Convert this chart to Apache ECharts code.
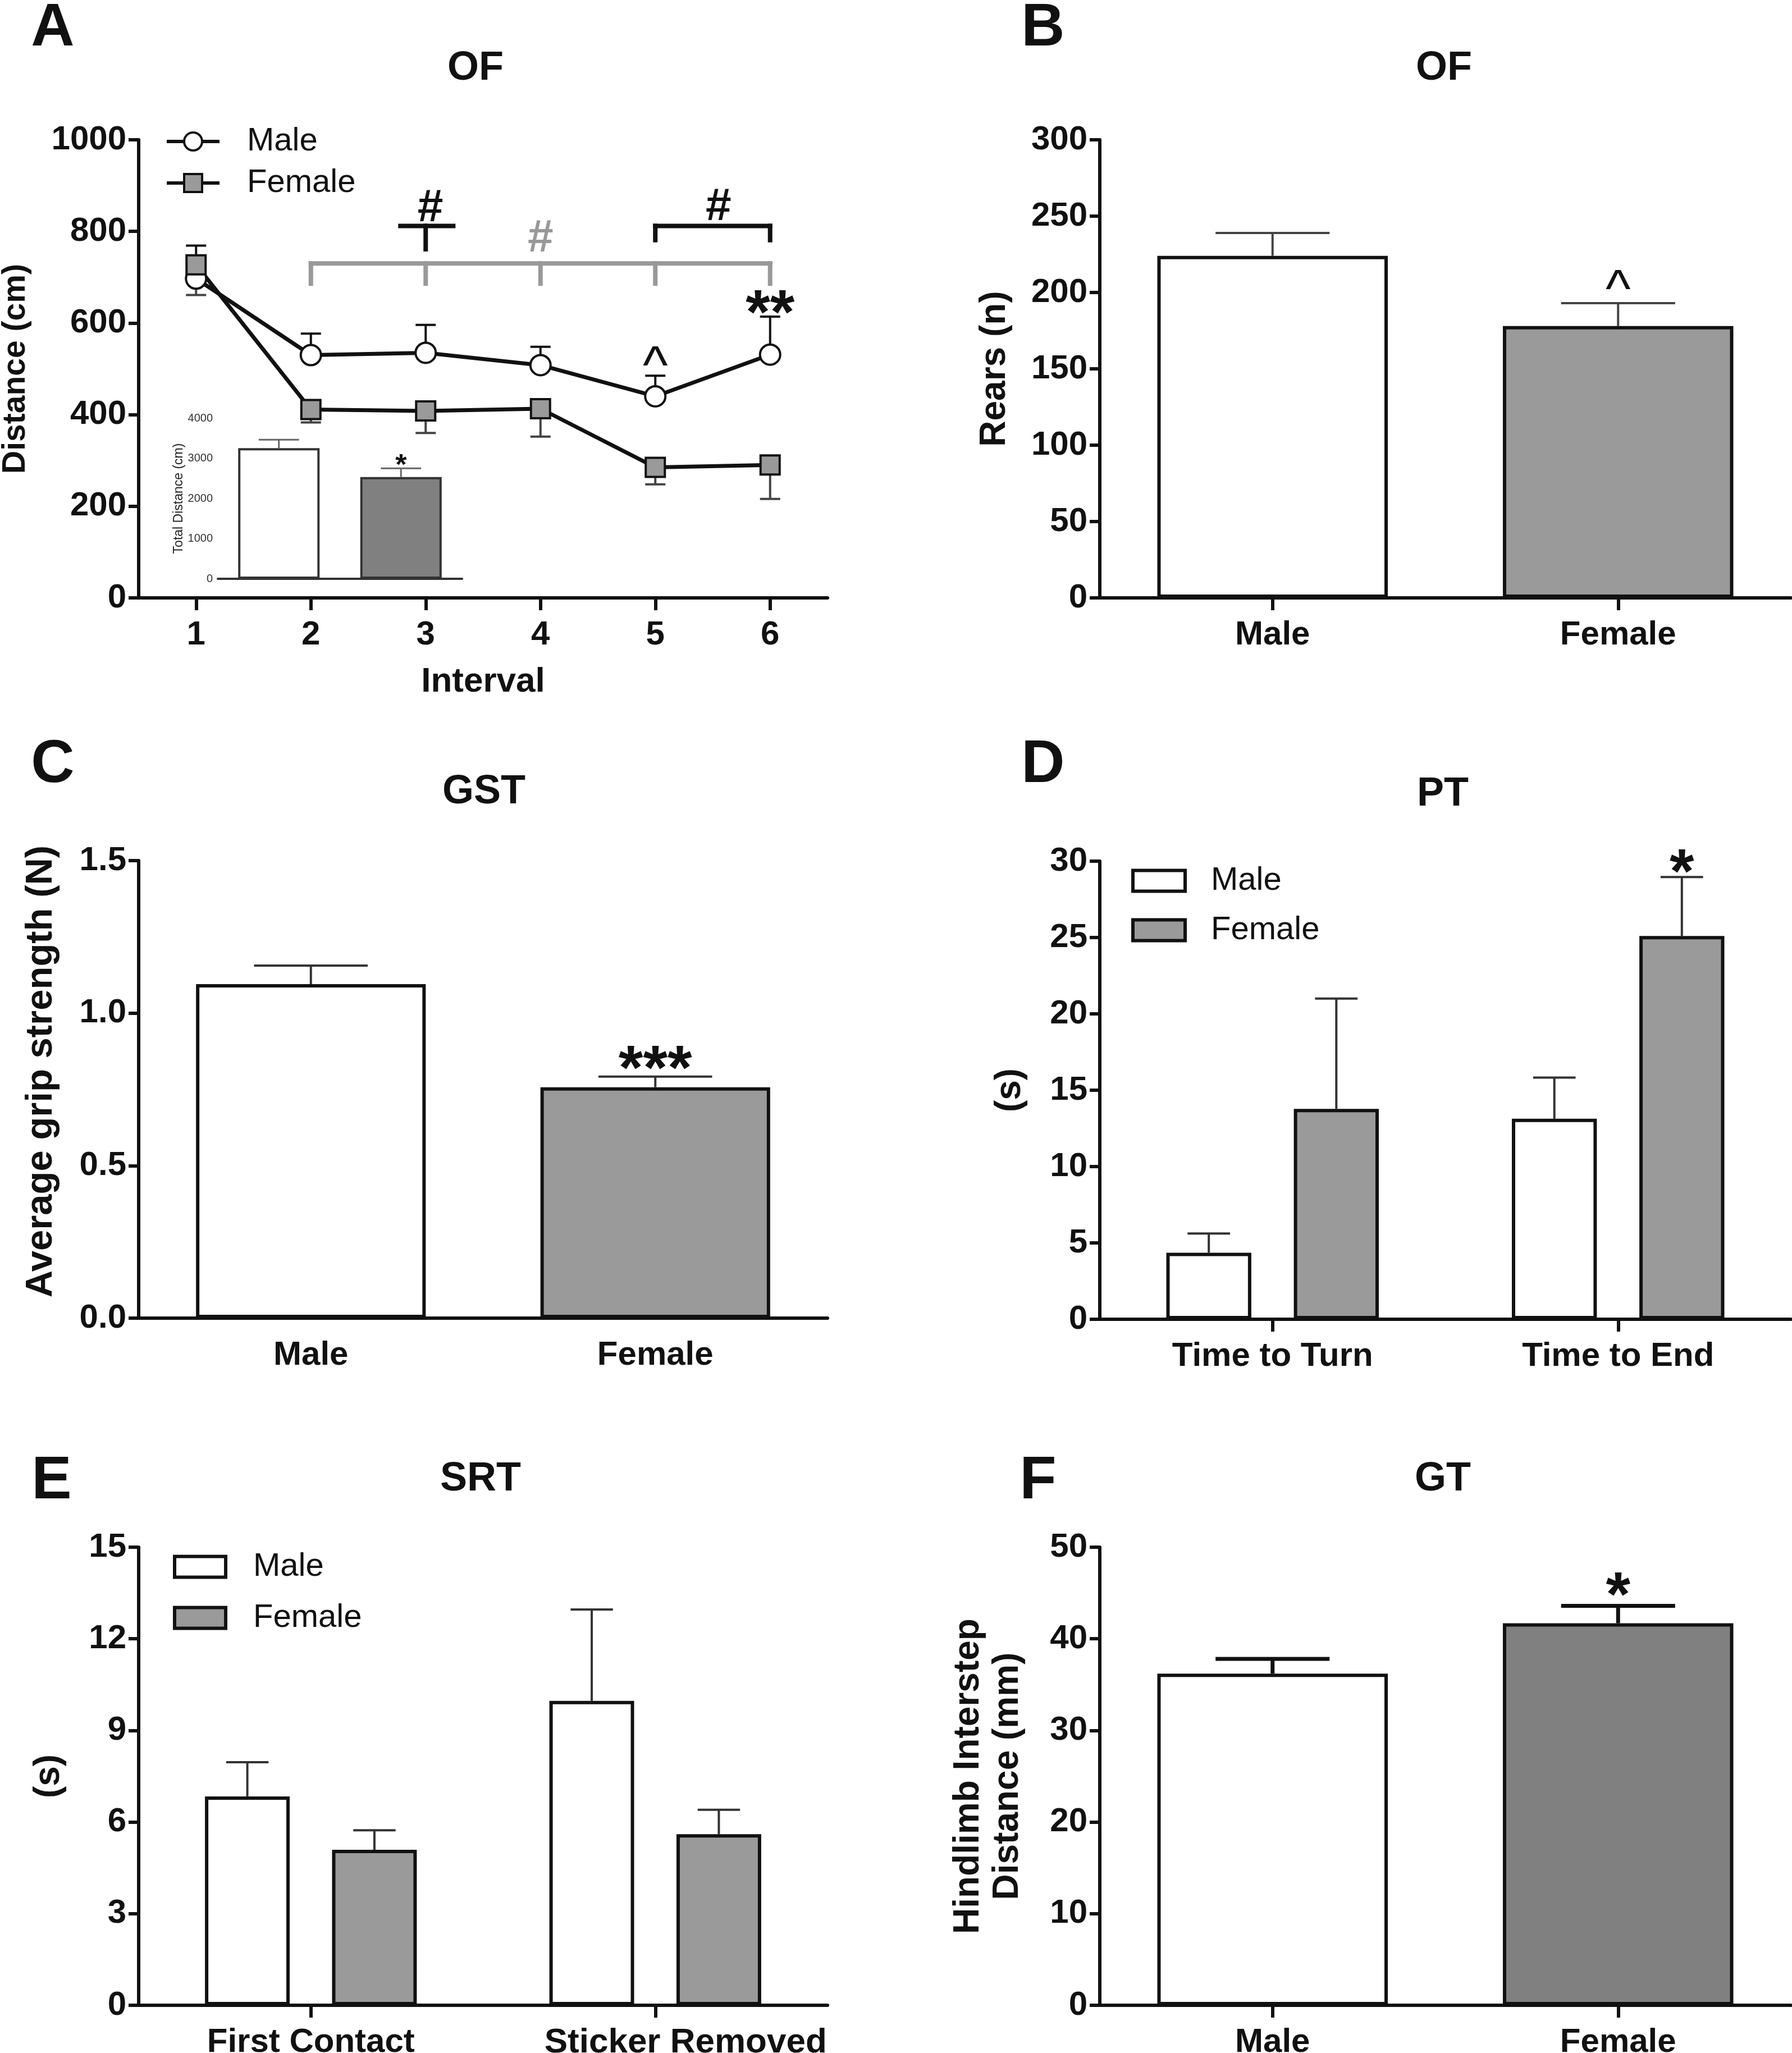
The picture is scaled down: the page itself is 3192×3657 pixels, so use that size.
<!DOCTYPE html>
<html><head><meta charset="utf-8">
<script src="https://cdn.jsdelivr.net/npm/echarts@6/dist/echarts.min.js"></script>
<style>html,body{margin:0;padding:0;background:#fff}#c{width:3192px;height:3657px}</style>
</head><body><div id="c"></div>
<script>
// ---------------- DATA ----------------
const intervals = ['1', '2', '3', '4', '5', '6'];
const maleDistance = [697, 530, 535, 508, 440, 531];
const maleDistanceSem = [72, 47, 61, 40, 45, 83];
const femaleDistance = [727, 411, 408, 413, 285, 290];
const femaleDistanceSem = [66, 28, 48, 61, 37, 74];

const sexes = ['Male', 'Female'];
const totalDistance = [3256, 2535];
const totalDistanceSem = [209, 218];

const rears = [224, 178];
const rearsSem = [15, 15];

const gripStrength = [1.095, 0.757];
const gripStrengthSem = [0.061, 0.035];

const ptCategories = ['Time to Turn', 'Time to End'];
const ptMale = [4.36, 13.13];
const ptMaleSem = [1.26, 2.70];
const ptFemale = [13.78, 25.10];
const ptFemaleSem = [7.22, 3.86];

const srtCategories = ['First Contact', 'Sticker Removed'];
const srtMale = [6.84, 9.97];
const srtMaleSem = [1.12, 2.99];
const srtFemale = [5.09, 5.60];
const srtFemaleSem = [0.64, 0.80];

const interstep = [36.2, 41.7];
const interstepSem = [1.6, 1.9];

// significance marks: [x position (category units), value, text]
const annotationsA = [[3.04, 852, '#'], [5.55, 855, '#'], [5, 523, '^'], [6, 648, '**']];
const annotationsGrayA = [[4, 786, '#']];
const annotationsInset = [[1, 2990, '*']];
const annotationsB = [[1, 207, '^']];
const annotationsC = [[1, 0.858, '***']];
const annotationsD = [[1.1845, 30.07, '*']];
const annotationsF = [[1, 46.1, '*']];
// bracket segments in data units: [x1, y1, x2, y2] (x = interval)
const bracketBlackA = [[2.78, 812, 3.24, 812], [3, 812, 3, 761], [5, 812, 6, 812], [5, 812, 5, 781], [6, 812, 6, 781]];
const bracketGrayA = [[2, 730, 6, 730], [2, 730, 2, 686], [3, 730, 3, 686], [4, 730, 4, 686], [5, 730, 5, 686], [6, 730, 6, 686]];

// ---------------- STYLE ----------------
const FONT = "'Liberation Sans', Arial, Helvetica, sans-serif";
const BLACK = '#111';
const GRAY = '#9a9a9a';
const DARKGRAY = '#808080';
const WHITE = '#ffffff';

const grids = [
  { left: 247, top: 249, width: 1227, height: 816 },   // 0 A
  { left: 388, top: 745, width: 435, height: 286 },    // 1 A inset
  { left: 1959, top: 249, width: 1231, height: 816 },  // 2 B
  { left: 247, top: 1533, width: 1227, height: 815 },  // 3 C
  { left: 1959, top: 1534, width: 1231, height: 816 }, // 4 D
  { left: 247, top: 2756, width: 1227, height: 816 },  // 5 E
  { left: 1959, top: 2756, width: 1231, height: 816 }  // 6 F
].map(g => Object.assign({ containLabel: false, outerBoundsMode: 'none' }, g));

function catAxis(gi, data, extra) {
  return Object.assign({
    type: 'category', gridIndex: gi, data: data, boundaryGap: true,
    axisLine: { show: true, lineStyle: { color: BLACK, width: 6 } },
    axisTick: { show: true, alignWithLabel: true, length: 22, lineStyle: { color: BLACK, width: 6 } },
    axisLabel: { interval: 0, hideOverlap: false, fontFamily: FONT, fontWeight: 'bold', fontSize: 60, color: BLACK, margin: 36 },
    splitLine: { show: false }
  }, extra || {});
}
function valAxis(gi, max, interval, name, nameGap, extra) {
  return Object.assign({
    type: 'value', gridIndex: gi, min: 0, max: max, interval: interval,
    name: name, nameLocation: 'middle', nameGap: nameGap,
    nameTextStyle: { fontFamily: FONT, fontWeight: 'bold', fontSize: 64, color: BLACK, lineHeight: 70 },
    axisLine: { show: true, lineStyle: { color: BLACK, width: 6 } },
    axisTick: { show: true, length: 18, lineStyle: { color: BLACK, width: 6 } },
    axisLabel: { fontFamily: FONT, fontWeight: 'bold', fontSize: 60, color: BLACK, margin: 22, formatter: v => String(v) },
    splitLine: { show: false }
  }, extra || {});
}

// the second SRT label sits right of its tick in the reference
const srtAxisData = srtCategories.map((c, i) => i === 1 ? { value: c, textStyle: { padding: [0, 0, 0, 108], fontSize: 62 } } : c);

const xAxes = [
  catAxis(0, intervals, { name: 'Interval', nameLocation: 'middle', nameGap: 119,
    nameTextStyle: { fontFamily: FONT, fontWeight: 'bold', fontSize: 62, color: BLACK } }),
  catAxis(1, sexes, { axisTick: { show: false }, axisLabel: { show: false },
    axisLine: { lineStyle: { color: '#333', width: 4 } } }),
  catAxis(2, sexes),
  catAxis(3, sexes, { axisTick: { show: false } }),
  catAxis(4, ptCategories),
  catAxis(5, srtAxisData),
  catAxis(6, sexes)
];
const yAxes = [
  valAxis(0, 1000, 200, 'Distance (cm)', 190, {
    nameTextStyle: { fontFamily: FONT, fontWeight: 'bold', fontSize: 57, color: BLACK } }),
  valAxis(1, 4000, 1000, 'Total Distance (cm)', 58, {
    nameTextStyle: { fontFamily: FONT, fontSize: 23, color: '#222' },
    axisLine: { lineStyle: { color: '#333', width: 4 } },
    axisTick: { length: 6, lineStyle: { color: '#333', width: 3 } },
    axisLabel: { fontFamily: FONT, fontSize: 20, color: '#333', margin: 9, formatter: v => String(v) }
  }),
  valAxis(2, 300, 50, 'Rears (n)', 152),
  valAxis(3, 1.5, 0.5, 'Average grip strength (N)', 140, {
    nameTextStyle: { fontFamily: FONT, fontWeight: 'bold', fontSize: 67, color: BLACK, padding: [0, 0, 0, 64] },
    axisLabel: { fontFamily: FONT, fontWeight: 'bold', fontSize: 60, color: BLACK, margin: 22,
      formatter: v => v.toFixed(1) } }),
  valAxis(4, 30, 5, '(s)', 125),
  valAxis(5, 15, 3, '(s)', 125),
  valAxis(6, 50, 10, 'Hindlimb Interstep\nDistance (mm)', 129)
];

// ---------------- HELPERS ----------------
function errorBars(gi, values, sems, cfg) {
  return {
    type: 'custom', xAxisIndex: gi, yAxisIndex: gi, z: cfg.z || 3, silent: true,
    data: values.map((v, i) => [i, v, sems[i]]),
    renderItem: function (params, api) {
      const i = api.value(0), v = api.value(1), e = api.value(2);
      const bw = api.size([1, 0])[0];
      const p0 = api.coord([i, v]);
      const p1 = api.coord([i, v + cfg.dir * e]);
      const cx = p0[0] + cfg.offset * bw, hc = cfg.cap * bw;
      const st = { stroke: cfg.color, lineWidth: cfg.width };
      return { type: 'group', children: [
        { type: 'line', shape: { x1: cx, y1: p0[1], x2: cx, y2: p1[1] }, style: st },
        { type: 'line', shape: { x1: cx - hc, y1: p1[1], x2: cx + hc, y2: p1[1] }, style: st }
      ] };
    }
  };
}
function markStyle(t, small) {
  if (t.indexOf('*') >= 0) return { font: 'bold ' + (small ? 52 : 112) + 'px ' + FONT, dy: small ? 13 : 27 };
  if (t === '^') return { font: 'normal 95px ' + FONT, dy: 18 };
  return { font: 'bold 82px ' + FONT, dy: 2 };
}
function marks(gi, items, origin, color, small) {
  return {
    type: 'custom', xAxisIndex: gi, yAxisIndex: gi, z: 5, silent: true,
    data: items.map(it => [0, it[1]]),
    renderItem: function (params, api) {
      const it = items[params.dataIndex];
      const bw = api.size([1, 0])[0];
      const base = api.coord([0, it[1]]);
      const ms = markStyle(it[2], small);
      return { type: 'text', x: base[0] + (it[0] - origin) * bw, y: base[1] + ms.dy,
        style: { text: it[2], font: ms.font, fill: color, align: 'center', verticalAlign: 'middle',
          textAlign: 'center', textVerticalAlign: 'middle' } };
    }
  };
}
function segments(gi, segs, origin, color, width) {
  return {
    type: 'custom', xAxisIndex: gi, yAxisIndex: gi, z: 4, silent: true,
    data: segs.map(s => [0, s[1]]),
    renderItem: function (params, api) {
      const s = segs[params.dataIndex];
      const bw = api.size([1, 0])[0];
      const b1 = api.coord([0, s[1]]), b2 = api.coord([0, s[3]]);
      return { type: 'line', shape: { x1: b1[0] + (s[0] - origin) * bw, y1: b1[1], x2: b2[0] + (s[2] - origin) * bw, y2: b2[1] },
        style: { stroke: color, lineWidth: width, lineCap: 'square' } };
    }
  };
}
function singleBars(gi, values, colors, borderWidth, borderColor) {
  return {
    type: 'bar', xAxisIndex: gi, yAxisIndex: gi, barWidth: '66.7%', z: 2, silent: true,
    data: values.map((v, i) => ({ value: v, itemStyle: { color: colors[i] } })),
    itemStyle: { borderColor: borderColor, borderWidth: borderWidth }
  };
}
function groupBars(gi, name, values, color) {
  return {
    type: 'bar', name: name, xAxisIndex: gi, yAxisIndex: gi, barWidth: '24.6%', barGap: '50%', z: 2, silent: true,
    data: values, itemStyle: { color: color, borderColor: BLACK, borderWidth: 6 }
  };
}

// ---------------- SERIES ----------------
const series = [
  // A
  errorBars(0, maleDistance, maleDistanceSem, { dir: 1, offset: 0, cap: 0.088, color: BLACK, width: 4, z: 2 }),
  errorBars(0, femaleDistance, femaleDistanceSem, { dir: -1, offset: 0, cap: 0.088, color: '#444', width: 4, z: 2 }),
  { type: 'line', name: 'Male|A', xAxisIndex: 0, yAxisIndex: 0, data: maleDistance, z: 3, silent: true,
    symbol: 'circle', symbolSize: 36, lineStyle: { color: BLACK, width: 7 },
    itemStyle: { color: WHITE, borderColor: BLACK, borderWidth: 4 } },
  { type: 'line', name: 'Female|A', xAxisIndex: 0, yAxisIndex: 0, data: femaleDistance, z: 3, silent: true,
    symbol: 'rect', symbolSize: 34, lineStyle: { color: BLACK, width: 7 },
    itemStyle: { color: GRAY, borderColor: BLACK, borderWidth: 4 } },
  segments(0, bracketGrayA, 1, '#999', 8),
  segments(0, bracketBlackA, 1, BLACK, 8),
  marks(0, annotationsA, 1, BLACK),
  marks(0, annotationsGrayA, 1, '#999'),
  // A inset
  singleBars(1, totalDistance, [WHITE, DARKGRAY], 4, '#333'),
  errorBars(1, totalDistance, totalDistanceSem, { dir: 1, offset: 0, cap: 0.165, color: '#666', width: 3 }),
  marks(1, annotationsInset, 0, BLACK, true),
  // B
  singleBars(2, rears, [WHITE, GRAY], 6, BLACK),
  errorBars(2, rears, rearsSem, { dir: 1, offset: 0, cap: 0.165, color: '#444', width: 4 }),
  marks(2, annotationsB, 0, BLACK),
  // C
  singleBars(3, gripStrength, [WHITE, GRAY], 6, BLACK),
  errorBars(3, gripStrength, gripStrengthSem, { dir: 1, offset: 0, cap: 0.165, color: '#333', width: 4 }),
  marks(3, annotationsC, 0, BLACK),
  // D
  groupBars(4, 'Male|D', ptMale, WHITE),
  groupBars(4, 'Female|D', ptFemale, GRAY),
  errorBars(4, ptMale, ptMaleSem, { dir: 1, offset: -0.1845, cap: 0.0615, color: '#333', width: 4 }),
  errorBars(4, ptFemale, ptFemaleSem, { dir: 1, offset: 0.1845, cap: 0.0615, color: '#333', width: 4 }),
  marks(4, annotationsD, 0, BLACK),
  // E
  groupBars(5, 'Male|E', srtMale, WHITE),
  groupBars(5, 'Female|E', srtFemale, GRAY),
  errorBars(5, srtMale, srtMaleSem, { dir: 1, offset: -0.1845, cap: 0.0615, color: '#333', width: 4 }),
  errorBars(5, srtFemale, srtFemaleSem, { dir: 1, offset: 0.1845, cap: 0.0615, color: '#333', width: 4 }),
  // F
  singleBars(6, interstep, [WHITE, DARKGRAY], 6, BLACK),
  errorBars(6, interstep, interstepSem, { dir: 1, offset: 0, cap: 0.165, color: BLACK, width: 7 }),
  marks(6, annotationsF, 0, BLACK)
];

function legendAt(left, top, names, gap, textPad, iconW, iconH, isLine) {
  const lg = {
    show: true, orient: 'vertical', left: left, top: top, padding: 0, itemGap: gap,
    itemWidth: iconW, itemHeight: iconH, data: names, selectedMode: false,
    formatter: n => n.split('|')[0],
    textStyle: { fontFamily: FONT, fontSize: 58, color: BLACK, lineHeight: 58, padding: [0, 0, 0, textPad] }
  };
  if (isLine) {
    lg.lineStyle = { width: 6, color: BLACK };
    lg.itemStyle = { borderWidth: 4, borderColor: BLACK };
  } else {
    lg.icon = 'rect';
    lg.itemStyle = { borderColor: BLACK, borderWidth: 6 };
  }
  return lg;
}

function label(text, x, y, size) {
  return { type: 'text', x: x, y: y, silent: true,
    style: { text: text, font: 'bold ' + size + 'px ' + FONT, fill: BLACK,
      textAlign: 'center', textVerticalAlign: 'middle', align: 'center', verticalAlign: 'middle' } };
}

const option = {
  backgroundColor: '#ffffff',
  animation: false,
  grid: grids,
  xAxis: xAxes,
  yAxis: yAxes,
  legend: [
    legendAt(294, 223, ['Male|A', 'Female|A'], 16, 44, 94, 40, true),
    legendAt(2015, 1540, ['Male|D', 'Female|D'], 30, 41, 93, 37, false),
    legendAt(308, 2762, ['Male|E', 'Female|E'], 33, 44, 91, 37, false)
  ],
  graphic: { elements: [
    label('A', 94, 51, 107), label('B', 1858, 51, 107), label('C', 94, 1363, 107),
    label('D', 1858, 1363, 107), label('E', 92, 2639, 107), label('F', 1849, 2639, 107),
    label('OF', 847, 122, 72), label('OF', 2572, 122, 72), label('GST', 862, 1411, 72),
    label('PT', 2570, 1415, 72), label('SRT', 856, 2635, 72), label('GT', 2570, 2635, 72)
  ] },
  series: series
};

const chart = echarts.init(document.getElementById('c'), null, { renderer: 'canvas', width: 3192, height: 3657 });
chart.setOption(option);
</script>
</body></html>
